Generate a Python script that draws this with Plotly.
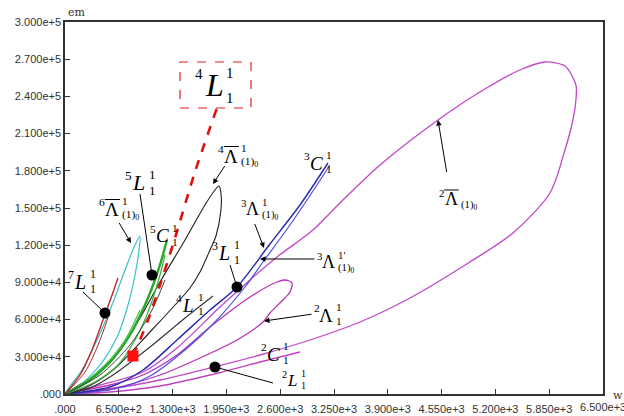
import plotly.graph_objects as go

# ---------------- data (w, em) ----------------
x_ticks = [0, 650, 1300, 1950, 2600, 3250, 3900, 4550, 5200, 5850, 6500]
x_ticktext = [".000", "6.500e+2", "1.300e+3", "1.950e+3", "2.600e+3", "3.250e+3",
              "3.900e+3", "4.550e+3", "5.200e+3", "5.850e+3", "6.500e+3"]
y_ticks = [0, 30000, 60000, 90000, 120000, 150000, 180000, 210000, 240000, 270000, 300000]
y_ticktext = [".000", "3.000e+4", "6.000e+4", "9.000e+4", "1.200e+5", "1.500e+5",
              "1.800e+5", "2.100e+5", "2.400e+5", "2.700e+5", "3.000e+5"]

# 2-Lambda-bar(1)0 big loop
big_loop_w = [0, 423, 942, 1353, 1872, 2235, 2561, 2996, 3322, 3806, 4506, 5013, 5496, 5798,
              6040, 6173, 6173, 6137, 6040, 5859, 5412, 4892, 4168, 3564, 2960, 2356, 1752, 1148, 544, 0]
big_loop_em = [0, 7258, 17743, 37097, 70161, 91936, 110485, 132259, 154034, 184678, 220970, 243550,
               261293, 267744, 264518, 249195, 237097, 220970, 196775, 162100, 129847, 106458,
               77424, 58068, 43551, 31454, 20969, 11291, 4033, 0]
# 2-Lambda(1,1) small loop
small_loop_w = [0, 544, 942, 1353, 1752, 2235, 2561, 2658, 2742, 2718, 2597, 2476, 2392, 2078, 1631, 1148, 544, 0]
small_loop_em = [0, 7258, 15323, 31452, 54033, 78226, 90323, 91936, 89517, 82258, 73388, 65323,
                 58065, 43549, 29032, 15323, 4033, 0]
# 2-C(1,1)
c2_w = [0, 544, 1148, 1752, 2356, 2839]
c2_em = [0, 1613, 6452, 15323, 25806, 33872]
# 3-C(1,1) and 3-Lambda(1)0 (blue pair)
c3_w = [0, 544, 942, 1353, 1752, 2078, 2476, 2839, 3177]
c3_em = [0, 5645, 19355, 43549, 67743, 86292, 120970, 152421, 186291]
l3_w = [0, 604, 1027, 1450, 1812, 2174, 2392, 2718, 3020, 3201]
l3_em = [0, 4033, 14516, 35484, 58065, 86292, 106453, 136291, 166130, 184678]
# 4-Lambda-bar(1)0 black loop
l4_loop_w = [0, 362, 664, 906, 1148, 1450, 1691, 1812, 1860, 1884, 1884, 1824, 1752, 1631, 1510, 1329, 1027, 580, 242, 0]
l4_loop_em = [0, 15323, 35484, 61291, 90323, 124195, 152421, 164517, 167743, 162098, 148388,
              127421, 116130, 98387, 85484, 71775, 50000, 19355, 4839, 0]
# 4-L(1,1) black line
l4_w = [0, 302, 580, 1027, 1450, 1788]
l4_em = [0, 4839, 15323, 37903, 61291, 79032]
# 4-L(1,1) red dashed
r4_w = [821, 906, 1003, 1148, 1329, 1570, 1836]
r4_em = [30646, 43549, 59678, 87905, 125808, 179033, 230647]
# 5-C(1,1) greens
g1_w = [0, 302, 568, 785, 966, 1087, 1172, 1232]
g1_em = [0, 11291, 27419, 47581, 71775, 91936, 109679, 124195]
g2_w = [0, 362, 640, 846, 1003, 1148, 1208]
g2_em = [0, 9678, 23387, 43549, 66130, 95968, 112098]
g3_w = [0, 242, 483, 725, 906]
g3_em = [0, 9678, 23387, 43549, 67743]
# dark grey companion of 5-L
k5_w = [0, 423, 785, 1051, 1208]
k5_em = [0, 15323, 39517, 67743, 91936]
# 6-Lambda-bar(1)0 cyan loop
cy_w = [0, 205, 387, 568, 725, 846, 906, 894, 846, 761, 640, 423, 181, 0]
cy_em = [0, 19355, 43549, 71775, 100001, 120163, 127421, 116130, 95968, 71775, 47581, 23387, 7258, 0]
# 7-L(1,1) reds
r7a_w = [0, 181, 326, 459, 556, 640]
r7a_em = [0, 15323, 35484, 59678, 77420, 93550]
r7b_w = [0, 242, 399, 519]
r7b_em = [0, 17743, 39517, 61291]
# marked points
dots_w = [1051, 483, 2078, 1812]
dots_em = [95968, 65323, 86292, 21774]
sq_w = [821]
sq_em = [30646]

fig = go.Figure()

def line(xs, ys, color, width=1.2, dash=None):
    fig.add_trace(go.Scatter(x=xs, y=ys, mode="lines",
                             line=dict(color=color, width=width, dash=dash, shape="spline", smoothing=0.8),
                             showlegend=False, hoverinfo="skip"))

line(big_loop_w, big_loop_em, "#c048c8", 1.3)
line(small_loop_w, small_loop_em, "#b830b8", 1.3)
line(c2_w, c2_em, "#c040c0", 1.3)
line(l3_w, l3_em, "#5050e0", 1.2)
line(c3_w, c3_em, "#2828a8", 1.4)
line(l4_loop_w, l4_loop_em, "#202020", 1.1)
line(l4_w, l4_em, "#303030", 1.1)
line(cy_w, cy_em, "#38c0c8", 1.2)
line(g3_w, g3_em, "#50c050", 1.2)
line(g2_w, g2_em, "#40b040", 1.3)
line(g1_w, g1_em, "#28a828", 2.4)
line(k5_w, k5_em, "#404040", 1.0)
line(r7a_w, r7a_em, "#c02828", 1.4)
line(r7b_w, r7b_em, "#a03030", 1.0)
line(r4_w, r4_em, "#e01010", 2.6, "dash")

fig.add_trace(go.Scatter(x=dots_w, y=dots_em, mode="markers",
                         marker=dict(color="black", size=11), showlegend=False, hoverinfo="skip"))
fig.add_trace(go.Scatter(x=sq_w, y=sq_em, mode="markers",
                         marker=dict(color="#ff1010", size=11, symbol="square"), showlegend=False, hoverinfo="skip"))

# ---------------- annotations (pixel placement helpers) ----------------
L0, T0, W0, H0 = 65, 22, 538, 372
def P(px, py):
    return (px - L0) / W0, (394 - py) / H0

ann = []
shapes = []
SERIF = "Liberation Serif"

def txt(px, py, s, size, italic=False, xanchor="center", family=SERIF, color="black"):
    x, y = P(px, py)
    ann.append(dict(x=x, y=y, xref="paper", yref="paper", text=(f"<i>{s}</i>" if italic else s),
                    showarrow=False, xanchor=xanchor, yanchor="middle",
                    font=dict(family=family, size=size, color=color)))

def arrow(tail, tip, head=2):
    x, y = P(*tip)
    ann.append(dict(x=x, y=y, xref="paper", yref="paper", text=" ", showarrow=True,
                    ax=tail[0] - tip[0], ay=tail[1] - tip[1], arrowhead=head, arrowsize=1.1,
                    arrowwidth=1, arrowcolor="black", font=dict(size=1)))

def seg(a, b, color="black", width=1, dash=None):
    x0, y0 = P(*a); x1, y1 = P(*b)
    shapes.append(dict(type="line", xref="paper", yref="paper", x0=x0, y0=y0, x1=x1, y1=y1,
                       line=dict(color=color, width=width, dash=dash)))

def label(cx, cy, pre, main, sup, sub, size=20, italic=True, bar=False):
    s = size * 0.6
    txt(cx - size * (0.55 if bar else 0.45), cy - size * 0.35, pre, s)
    txt(cx, cy, main, size, italic)
    if sup:
        txt(cx + size * 0.42, cy - size * 0.4, sup, s, xanchor="left")
    if sub:
        txt(cx + size * 0.42, cy + size * 0.34, sub, s, xanchor="left")
    if bar:
        seg((cx - size * 0.38, cy - size * 0.5), (cx + size * 0.42, cy - size * 0.5))

# boxed red 4L
x0, y0 = P(180, 62); x1, y1 = P(251, 108)
shapes.append(dict(type="rect", xref="paper", yref="paper", x0=x0, y0=y1, x1=x1, y1=y0,
                   line=dict(color="#e02020", width=1.2, dash="dash"), fillcolor="rgba(0,0,0,0)"))
txt(199, 74, "4", 15)
txt(214, 85, "L", 32, True)
txt(224, 73, "1", 15, xanchor="left")
txt(224, 98, "1", 15, xanchor="left")

label(231, 156, "4", "Λ", "1", "(1)<sub>0</sub>", 19, False, True)
arrow((226, 164), (213, 184))
label(112, 209, "6", "Λ", "1", "(1)<sub>0</sub>", 19, False, True)
arrow((118, 221), (131, 243))
label(138, 183, "5", "L", "1", "1", 22)
seg((140, 194), (152, 275))
label(162, 236, "5", "C", "1", "1", 19)
label(80, 282, "7", "L", "1", "1", 20)
seg((83, 292), (105, 313))
label(224, 253, "3", "L", "1", "1", 20)
seg((230, 265), (237, 287))
label(316, 163, "3", "C", "1", "1", 19)
label(252, 209, "3", "Λ", "1", "(1)<sub>0</sub>", 18, False)
arrow((254, 222), (264, 248))
label(328, 262, "3", "Λ", "1'", "(1)<sub>0</sub>", 18, False)
arrow((316, 259), (260, 259))
label(326, 315, "2", "Λ", "1", "1", 19, False)
arrow((313, 314), (264, 321))
label(273, 354, "2", "C", "1", "1", 19)
label(292, 380, "2", "L", "1", "1", 17)
seg((215, 367), (273, 383))
label(451, 199, "2", "Λ", "", "(1)<sub>0</sub>", 18, False, True)
arrow((447, 174), (438, 120))
label(188, 305, "4", "L", "1", "1", 19)

# axis titles
txt(66, 12, "em", 11, xanchor="left", family="DejaVu Serif", color="#333")
txt(611, 395, "w", 11, xanchor="left", family="DejaVu Serif", color="#333")
# last x tick label (runs past the right edge)
txt(603, 407, "6.500e+3", 11, family="Liberation Sans", color="#333")

axis_common = dict(showgrid=False, zeroline=False, showline=True, linecolor="#333", linewidth=1.5,
                   mirror=True, ticks="inside", ticklen=5, tickcolor="#333", tickwidth=1.2,
                   automargin=False,
                   tickfont=dict(family="Liberation Sans", size=11, color="#333"))

fig.update_layout(
    width=624, height=416, margin=dict(l=65, r=21, t=22, b=22),
    paper_bgcolor="white", plot_bgcolor="white",
    xaxis=dict(range=[0, 6500], tickvals=x_ticks[:-1], ticktext=x_ticktext[:-1], ticklabelstandoff=4, **axis_common),
    yaxis=dict(range=[0, 300000], tickvals=y_ticks, ticktext=y_ticktext, **axis_common),
    annotations=ann, shapes=shapes,
)

fig.write_html("out.html")
